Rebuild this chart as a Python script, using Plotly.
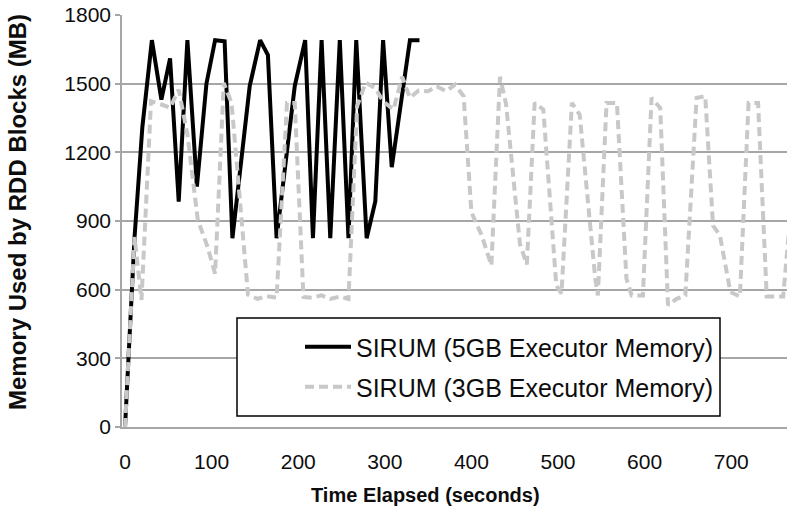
import plotly.graph_objects as go

# ---- data ----
t_5gb = [0, 11, 20, 31, 42, 52, 62, 72, 83, 94, 104, 115, 124, 134, 144, 156, 165, 175,
         186, 196, 208, 217, 227, 237, 248, 258, 267, 279, 289, 298, 308, 318, 329, 340]
mem_5gb = [0, 830, 1310, 1690, 1430, 1610, 985, 1690, 1050, 1500, 1690, 1685, 825, 1160,
           1490, 1690, 1625, 825, 1160, 1490, 1690, 825, 1690, 825, 1690, 825, 1690, 825,
           985, 1690, 1135, 1410, 1690, 1690]

t_3gb = [0, 11, 19, 30, 42, 52, 62, 72, 84, 95, 104, 114, 123, 133, 142, 153, 163, 175,
         187, 196, 206, 216, 227, 237, 248, 258, 268, 278, 289, 298, 310, 320, 329, 339,
         350, 360, 371, 381, 391, 400, 412, 423, 433, 440, 456, 464, 473, 483, 498, 504,
         516, 525, 543, 546, 556, 568, 579, 585, 598, 608, 618, 627, 637, 647, 660, 670,
         679, 687, 699, 710, 720, 731, 741, 760, 770]
mem_3gb = [0, 830, 555, 1423, 1409, 1395, 1474, 1280, 905, 790, 670, 1503, 1416, 1000,
           578, 560, 572, 565, 1416, 1416, 568, 565, 575, 560, 570, 560, 1402, 1505, 1480,
           1423, 1387, 1530, 1438, 1470, 1467, 1488, 1467, 1496, 1445, 938, 836, 706, 1530,
           1410, 800, 710, 1416, 1387, 619, 583, 1416, 1365, 648, 575, 1416, 1416, 648, 575,
           575, 1438, 1394, 532, 560, 575, 1438, 1445, 880, 836, 590, 570, 1416, 1416, 570,
           570, 1000]

y_ticks = [0, 300, 600, 900, 1200, 1500, 1800]
x_ticks = [0, 100, 200, 300, 400, 500, 600, 700]

name_5gb = "SIRUM (5GB Executor Memory)"
name_3gb = "SIRUM (3GB Executor Memory)"
x_title = "Time Elapsed (seconds)"
y_title = "Memory Used by RDD Blocks (MB)"

FONT = "Liberation Sans, Arial, sans-serif"
GRID = "#a6a6a6"
TXT = "#0d0d0d"

W, H = 787, 512
L, R, T, B = 122, 0, 15, 85
PW, PH = W - L - R, H - T - B

fig = go.Figure()
fig.add_trace(go.Scatter(x=t_5gb, y=mem_5gb, mode="lines", name=name_5gb,
                         line=dict(color="#000000", width=4), legend="legend",
                         showlegend=True))
fig.add_trace(go.Scatter(x=t_3gb, y=mem_3gb, mode="lines", name=name_3gb,
                         line=dict(color="#c8c8c8", width=4, dash="9px,5px"),
                         legend="legend2", showlegend=True))

leg_common = dict(xanchor="left", yanchor="middle", bgcolor="rgba(0,0,0,0)",
                  borderwidth=0, itemwidth=46, visible=True,
                  font=dict(size=25, color=TXT))


def px_x(px):
    return (px - L) / PW


def px_y(py):
    return (H - B - py) / PH


fig.update_layout(
    width=W, height=H,
    margin=dict(l=L, r=R, t=T, b=B),
    paper_bgcolor="white", plot_bgcolor="white",
    showlegend=True,
    font=dict(family=FONT, size=21, color=TXT),
    xaxis=dict(range=[-3.5, 764.4], tickvals=x_ticks, showgrid=False,
               showline=True, linecolor=GRID, linewidth=1.5, ticks="",
               ticklabelstandoff=15, zeroline=False),
    yaxis=dict(range=[0, 1800], tickvals=y_ticks, showgrid=True, gridcolor=GRID,
               gridwidth=1.5, showline=True, linecolor=GRID, linewidth=1.5,
               ticks="outside", ticklen=5, tickcolor=GRID, tickwidth=1.5,
               zeroline=False),
    shapes=[dict(type="rect", xref="paper", yref="paper", layer="above",
                 x0=px_x(237), x1=px_x(720), y0=px_y(416), y1=px_y(318),
                 fillcolor="white", line=dict(color="#000000", width=1.5))],
    annotations=[
        dict(text="<b>%s</b>" % x_title, xref="paper", yref="paper",
             x=px_x(425), y=px_y(495), xanchor="center", yanchor="middle",
             showarrow=False, font=dict(size=20, color=TXT)),
        dict(text="<b>%s</b>" % y_title, xref="paper", yref="paper",
             x=px_x(17), y=px_y(212), xanchor="center", yanchor="middle",
             textangle=-90, showarrow=False, font=dict(size=24, color=TXT)),
    ],
    legend=dict(x=px_x(300), y=px_y(347), **leg_common),
    legend2=dict(x=px_x(300), y=px_y(387), **leg_common),
)

fig.write_html("out.html")
